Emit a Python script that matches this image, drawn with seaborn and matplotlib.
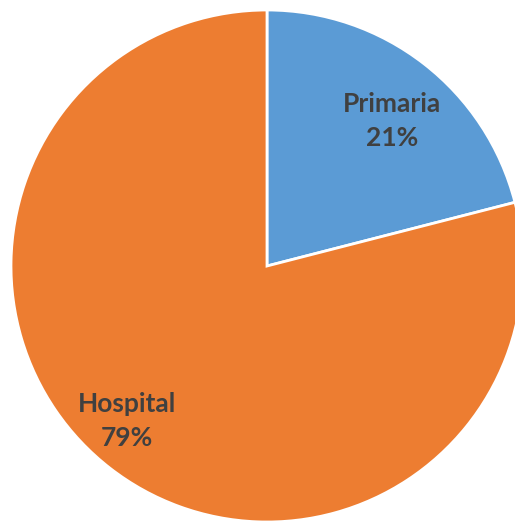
import matplotlib
matplotlib.use("Agg")
import matplotlib.pyplot as plt
import seaborn as sns

categories = ["Primaria", "Hospital"]
values = [21, 79]
colors = ["#5B9BD5", "#ED7D31"]

sns.set_style("white")
plt.rcParams['font.family'] = ['Lato', 'DejaVu Sans']

W, H = 515, 523
fig = plt.figure(figsize=(W / 100, H / 100), dpi=100)
ax = fig.add_axes([0, 0, 1, 1])

cx, cy, r = 267, 266, 256
wedges, _ = ax.pie(values, colors=colors, startangle=90, counterclock=False,
                   radius=r, center=(0, 0),
                   wedgeprops=dict(edgecolor="white", linewidth=2))
ax.set_xlim(-cx, W - cx)
ax.set_ylim(-(H - cy), cy)
ax.set_aspect("equal")
ax.axis("off")

label_pos = [(392 - cx, cy - 121), (127 - cx, cy - 421)]
for cat, val, (x, y) in zip(categories, values, label_pos):
    ax.text(x, y, f"{cat}\n{val}%", ha="center", va="center", fontsize=19,
            fontweight="bold", color="#404040", linespacing=1.45)

fig.savefig("out.png", dpi=100)
